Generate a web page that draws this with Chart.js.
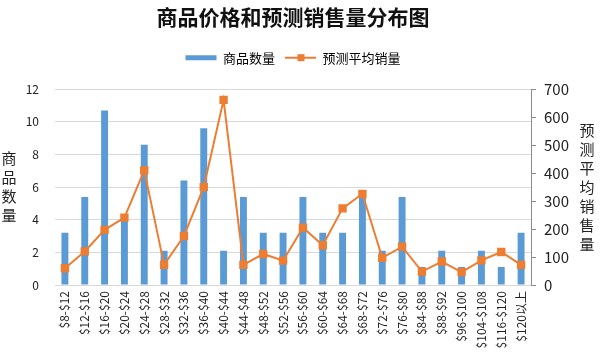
<!DOCTYPE html>
<html>
<head>
<meta charset="utf-8">
<script src="https://cdn.jsdelivr.net/npm/chart.js@4/dist/chart.umd.min.js"></script>
<style>
  html, body { margin: 0; padding: 0; background: #fff; }
  #wrap { width: 601px; height: 362px; position: relative; }
</style>
</head>
<body>
<div id="wrap"><canvas id="chart"></canvas></div>
<script>
// ─── Data ─────────────────────────────────────────────────────────────────────
const priceRanges = ['$8-$12','$12-$16','$16-$20','$20-$24','$24-$28','$28-$32','$32-$36','$36-$40',
  '$40-$44','$44-$48','$48-$52','$52-$56','$56-$60','$60-$64','$64-$68','$68-$72','$72-$76','$76-$80',
  '$84-$88','$88-$92','$96-$100','$104-$108','$116-$120','$120以上'];
const itemCounts = [3.2, 5.4, 10.7, 4.3, 8.6, 2.1, 6.4, 9.6, 2.1, 5.4, 3.2, 3.2,
  5.4, 3.2, 3.2, 5.4, 2.1, 5.4, 1.1, 2.1, 1.1, 2.1, 1.1, 3.2];
const avgSales = [60, 120, 197, 241, 410, 72, 175, 350, 662, 72, 111, 87,
  205, 142, 274, 326, 97, 137, 48, 84, 46, 88, 118, 72];
const leftTicks = [0, 2, 4, 6, 8, 10, 12];
const rightTicks = [0, 100, 200, 300, 400, 500, 600, 700];

const BLUE = '#5B9BD5';
const ORANGE = '#ED7D31';
const FONT = '"Noto Sans CJK SC", "Liberation Sans", sans-serif';

// ─── Stacked vertical axis titles, legend spacing + marker ────────────────────
const extras = {
  id: 'extras',
  beforeLayout(chart) {
    const lg = chart.legend;
    if (lg && !lg._padded) {
      const fit = lg.fit;
      lg.fit = function () { fit.call(this); this.height += 15; };
      lg._padded = true;
    }
  },
  afterDraw(chart) {
    const ctx = chart.ctx;
    const area = chart.chartArea;
    const mid = (area.top + area.bottom) / 2;
    ctx.save();
    ctx.fillStyle = '#222';
    ctx.font = '15px ' + FONT;
    ctx.textAlign = 'center';
    ctx.textBaseline = 'middle';
    const stack = (text, x) => {
      const chars = [...text];
      const step = 19;
      const y0 = mid - (chars.length - 1) * step / 2;
      chars.forEach((c, i) => ctx.fillText(c, x, y0 + i * step));
    };
    stack('商品数量', 9);
    stack('预测平均销售量', 587);

    // square marker on the line legend item
    const boxes = chart.legend.legendHitBoxes;
    if (boxes && boxes[1]) {
      const b = boxes[1];
      const cx = b.left + 16;
      const cy = b.top + b.height / 2;
      ctx.fillStyle = ORANGE;
      ctx.fillRect(cx - 3.5, cy - 3.5, 7, 7);
    }
    ctx.restore();
  }
};

new Chart(document.getElementById('chart'), {
  data: {
    labels: priceRanges,
    datasets: [
      {
        type: 'line',
        label: '预测平均销量',
        data: avgSales,
        yAxisID: 'y1',
        borderColor: ORANGE,
        backgroundColor: ORANGE,
        borderWidth: 2,
        pointStyle: 'rect',
        pointRadius: 4.5,
        pointHoverRadius: 4.5,
        tension: 0,
        order: 0
      },
      {
        type: 'bar',
        label: '商品数量',
        data: itemCounts,
        yAxisID: 'y',
        backgroundColor: BLUE,
        barPercentage: 0.35,
        categoryPercentage: 1,
        order: 1
      }
    ]
  },
  options: {
    responsive: true,
    maintainAspectRatio: false,
    animation: false,
    layout: { padding: 0 },
    plugins: {
      title: {
        display: true,
        fullSize: false,
        text: '商品价格和预测销售量分布图',
        color: '#111',
        font: { family: FONT, size: 21, weight: 'bold' },
        padding: { top: 4, bottom: 12 }
      },
      legend: {
        position: 'top',
        fullSize: false,
        labels: {
          usePointStyle: true,
          pointStyleWidth: 31,
          color: '#222',
          font: { family: FONT, size: 13 },
          padding: 10,
          generateLabels(chart) {
            return [
              { text: '商品数量', pointStyle: 'line', strokeStyle: BLUE, fillStyle: BLUE, lineWidth: 5, datasetIndex: 1 },
              { text: '预测平均销量', pointStyle: 'line', strokeStyle: ORANGE, fillStyle: ORANGE, lineWidth: 2, datasetIndex: 0 }
            ];
          }
        }
      },
      tooltip: { enabled: false }
    },
    scales: {
      x: {
        grid: { display: false, drawTicks: false },
        border: { display: true, color: '#d9d9d9' },
        ticks: {
          autoSkip: false,
          maxRotation: 90,
          minRotation: 90,
          padding: 6,
          color: '#222',
          font: { family: FONT, size: 12 }
        },
        afterFit(scale) { scale.height = 77; }
      },
      y: {
        position: 'left',
        min: 0,
        max: 12,
        afterBuildTicks(scale) { scale.ticks = leftTicks.map(v => ({ value: v })); },
        grid: { color: '#d9d9d9', drawTicks: false },
        border: { display: false },
        ticks: {
          padding: 16,
          color: '#222',
          font: { family: FONT, size: 12 }
        },
        afterFit(scale) { scale.width = 55; }
      },
      y1: {
        position: 'right',
        min: 0,
        max: 700,
        afterBuildTicks(scale) { scale.ticks = rightTicks.map(v => ({ value: v })); },
        grid: { drawOnChartArea: false, drawTicks: true, tickLength: 5, color: '#8c8c8c' },
        border: { display: true, color: '#8c8c8c' },
        ticks: {
          padding: 8,
          color: '#222',
          font: { family: FONT, size: 15 }
        },
        afterFit(scale) { scale.width = 70; }
      }
    }
  },
  plugins: [extras]
});
</script>
</body>
</html>
